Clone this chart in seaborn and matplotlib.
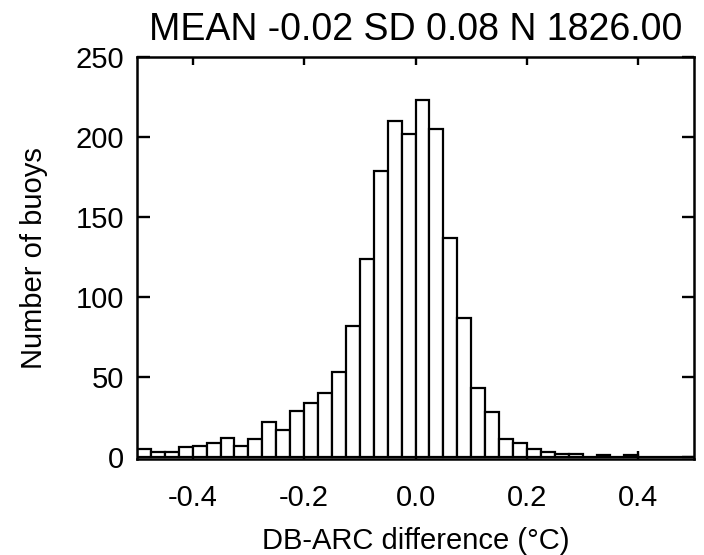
import numpy as np
import pandas as pd
import matplotlib
matplotlib.use('Agg')
import matplotlib.pyplot as plt
import seaborn as sns

# histogram: 40 bins of 0.025 from -0.5 to 0.5
bin_edges = np.linspace(-0.5, 0.5, 41)
counts = [5, 3, 3, 6, 7, 9, 12, 7, 11, 22,
          17, 29, 34, 40, 53, 82, 124, 179, 210, 202,
          223, 205, 137, 87, 43, 28, 11, 9, 5, 3,
          2, 2, 0, 1, 0, 1, 0, 0, 0, 0]
x_ticks = [-0.4, -0.2, 0.0, 0.2, 0.4]
y_ticks = [0, 50, 100, 150, 200, 250]
title = 'MEAN -0.02 SD 0.08 N 1826.00'

df = pd.DataFrame({'diff': (bin_edges[:-1] + bin_edges[1:]) / 2, 'n': counts})

sns.set_style('ticks')
plt.rcParams['font.family'] = ['Liberation Sans', 'DejaVu Sans']
plt.rcParams['text.color'] = 'black'
plt.rcParams['axes.labelcolor'] = 'black'

fig = plt.figure(figsize=(7.04, 5.55), dpi=100)
ax = fig.add_axes([0.1946, 0.173, 0.7912, 0.7243])

sns.histplot(data=df, x='diff', weights='n', bins=list(bin_edges), ax=ax,
             color='white', edgecolor='black', linewidth=1.6, alpha=1)

ax.set_xlim(-0.5, 0.5)
ax.set_ylim(-1.25, 250)
ax.set_xticks(x_ticks)
ax.set_xticklabels(['%.1f' % t for t in x_ticks])
ax.set_yticks(y_ticks)
ax.tick_params(axis='both', direction='in', top=True, right=True,
               width=1.7, labelsize=21, colors='black')
ax.tick_params(axis='x', length=6, pad=18)
ax.tick_params(axis='y', length=9, pad=9)
for s in ax.spines.values():
    s.set_linewidth(1.8)
    s.set_color('black')

ax.set_xlabel('DB-ARC difference (\u00b0C)', fontsize=21, labelpad=11, color='black')
ax.set_ylabel('Number of buoys', fontsize=21, labelpad=20, color='black')
ax.set_title(title, fontsize=27, pad=12, color='black')

fig.savefig('out.png', dpi=100)
